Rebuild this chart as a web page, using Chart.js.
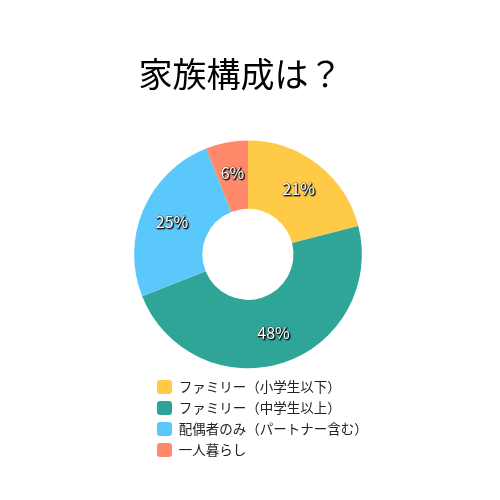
<!DOCTYPE html>
<html>
<head>
<meta charset="utf-8">
<script src="https://cdn.jsdelivr.net/npm/chart.js@4.4.1/dist/chart.umd.min.js"></script>
<style>
  html, body { margin: 0; padding: 0; background: #fff; }
  #wrap { width: 500px; height: 500px; }
</style>
</head>
<body>
<div id="wrap"><canvas id="c" width="500" height="500"></canvas></div>
<script>
const TITLE = '家族構成は？';
const categories = ['ファミリー（小学生以下）', 'ファミリー（中学生以上）', '配偶者のみ（パートナー含む）', '一人暮らし'];
const values = [21, 48, 25, 6];
const colors = ['#FFCB47', '#2EA596', '#5AC8FA', '#FF8A6B'];

const FONT = '"Noto Sans CJK JP", "Noto Sans", sans-serif';
const LEGEND_LEFT = 150;
const LEGEND_WIDTH = 220;

const legendLayout = {
  id: 'legendLayout',
  beforeLayout(chart) {
    const lg = chart.legend;
    if (lg && !lg.__col) {
      lg.__col = true;
      const base = Object.getPrototypeOf(lg).update;
      lg.update = function (w, h, m) { return base.call(this, LEGEND_WIDTH, h, m); };
    }
  },
  afterLayout(chart) {
    const lg = chart.legend;
    if (lg) { lg.left = LEGEND_LEFT; lg.right = LEGEND_LEFT + LEGEND_WIDTH; lg.width = LEGEND_WIDTH; }
    const t = chart.titleBlock;
    if (t) { t.left = 0; t.right = 481; t.width = 481; }
  }
};

const sliceLabels = {
  id: 'sliceLabels',
  afterDatasetsDraw(chart) {
    const ctx = chart.ctx;
    const meta = chart.getDatasetMeta(0);
    const data = chart.data.datasets[0].data;
    ctx.save();
    ctx.font = '16px ' + FONT;
    ctx.textAlign = 'center';
    ctx.textBaseline = 'middle';
    meta.data.forEach((arc, i) => {
      const p = arc.getProps(['x', 'y', 'startAngle', 'endAngle', 'innerRadius', 'outerRadius'], true);
      const mid = (p.startAngle + p.endAngle) / 2;
      const r = (p.innerRadius + p.outerRadius) / 2 + 3;
      const tx = p.x + Math.cos(mid) * r;
      const ty = p.y + Math.sin(mid) * r;
      const txt = data[i] + '%';
      ctx.shadowColor = 'rgba(0,0,0,0.9)';
      ctx.shadowBlur = 1;
      ctx.shadowOffsetX = 1;
      ctx.shadowOffsetY = 1;
      ctx.strokeStyle = 'rgba(60,60,60,0.6)';
      ctx.lineWidth = 1;
      ctx.strokeText(txt, tx, ty);
      ctx.fillStyle = '#ffffff';
      ctx.fillText(txt, tx, ty);
    });
    ctx.restore();
  }
};

new Chart(document.getElementById('c'), {
  type: 'doughnut',
  data: {
    labels: categories,
    datasets: [{
      data: values,
      backgroundColor: colors,
      borderWidth: 0,
      hoverOffset: 0,
      radius: '96%'
    }]
  },
  options: {
    responsive: false,
    animation: false,
    cutout: '40%',
    layout: { padding: { left: 0, right: 4, top: 0, bottom: 33 } },
    plugins: {
      title: {
        display: true,
        text: TITLE,
        color: '#000',
        font: { family: FONT, size: 34, weight: 'normal' },
        padding: { top: 54, bottom: 41 }
      },
      legend: {
        display: true,
        position: 'bottom',
        align: 'start',
        labels: {
          color: '#222',
          font: { family: FONT, size: 13.5 },
          boxWidth: 15,
          boxHeight: 14,
          padding: 7,
          generateLabels(chart) {
            const ds = chart.data.datasets[0];
            return chart.data.labels.map((label, i) => ({
              text: label,
              fillStyle: ds.backgroundColor[i],
              strokeStyle: ds.backgroundColor[i],
              lineWidth: 0,
              borderRadius: 3,
              fontColor: '#222',
              hidden: !chart.getDataVisibility(i),
              index: i
            }));
          }
        }
      },
      tooltip: { enabled: false }
    }
  },
  plugins: [legendLayout, sliceLabels]
});
</script>
</body>
</html>
